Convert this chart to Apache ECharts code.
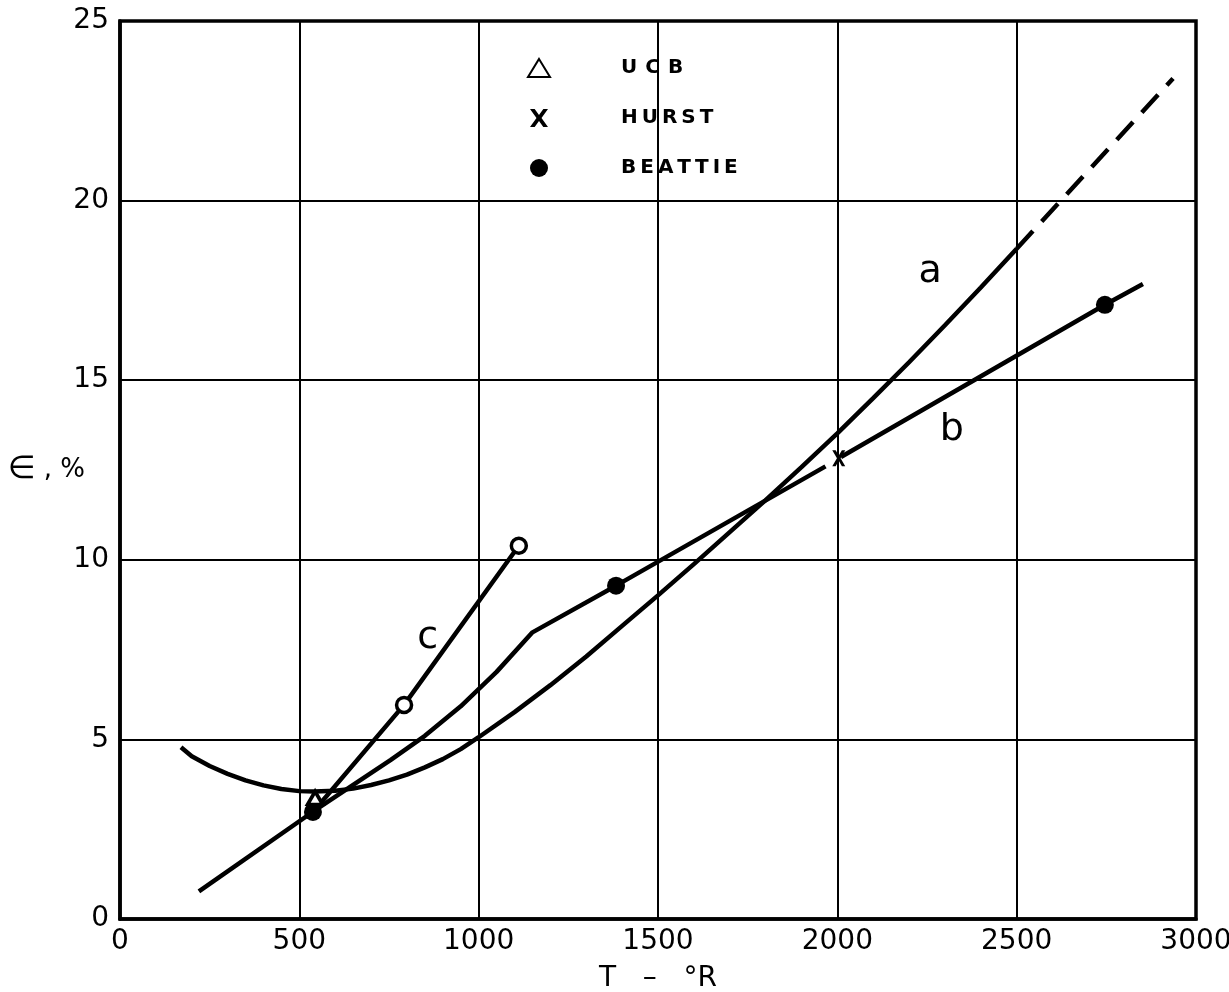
<!DOCTYPE html>
<html>
<head>
<meta charset="utf-8">
<script src="https://cdn.jsdelivr.net/npm/echarts@6/dist/echarts.min.js"></script>
<style>
html,body{margin:0;padding:0;background:#fff;}
#chart{width:1229px;height:992px;}
</style>
</head>
<body>
<div id="chart"></div>
<script>
// ---- data ----
const xRange = [0, 3000];
const yRange = [0, 25];
const xStep = 500;
const yStep = 5;

// curve a: solid part and dashed extrapolation
const curveA = [[170,4.78],[200,4.53],[250,4.26],[300,4.04],[350,3.86],[400,3.72],[450,3.62],[500,3.56],[541,3.55],[600,3.57],[650,3.63],[700,3.73],[750,3.86],[800,4.02],[850,4.22],[900,4.45],[950,4.73],[1000,5.06],[1100,5.76],[1200,6.51],[1300,7.31],[1400,8.16],[1500,9.01],[1600,9.88],[1700,10.77],[1800,11.66],[1900,12.58],[2000,13.52],[2100,14.5],[2200,15.5],[2300,16.53],[2400,17.58],[2500,18.66]];
const curveADashed = [[2500,18.66],[2936,23.4]];
// curve b: broken at the Hurst point
const curveB1 = [[220,0.77],[540,3.0],[755,4.43],[850,5.1],[950,5.92],[1050,6.88],[1150,7.98],[1383,9.28],[1967,12.6]];
const curveB2 = [[2010,12.86],[2746,17.1],[2852,17.68]];
// curve c
const curveC = [[540,3.0],[792,5.96],[1112,10.39]];
const openCircles = [[792,5.96],[1112,10.39]];

// measured points
const ucb = [[544,3.37]];
const hurst = [[2004,12.83]];
const beattie = [[538,2.98],[1383,9.28],[2746,17.1]];

// curve letters
const curveLabels = [
  {name:'a', value:[2259,18.0]},
  {name:'b', value:[2319,13.62]},
  {name:'c', value:[858,7.83]}
];

const legendNames = ['U\u2009\u2009C\u2009\u2009B', 'H\u2009U\u2009R\u2009S\u2009T', 'B\u2009E\u2009A\u2009T\u2009T\u2009I\u2009E'];

const XPATH = 'path://M0,0 L2.6,0 L5,3.4 L7.4,0 L10,0 L6.4,5 L10,10 L7.4,10 L5,6.6 L2.6,10 L0,10 L3.6,5 Z';

const chart = echarts.init(document.getElementById('chart'), null, {renderer:'canvas'});
const lineStyle = {color:'#000', width:4.5};
const baseFont = 'DejaVu Sans';

chart.setOption({
  animation:false,
  backgroundColor:'#fff',
  grid:{left:120, right:33, top:21, bottom:73, containLabel:false, outerBoundsMode:'none',
    show:true, borderColor:'#000', borderWidth:3.5, backgroundColor:'transparent'},
  legend:{
    orient:'vertical', left:522, top:53, itemGap:30, itemWidth:22, itemHeight:18,
    data:legendNames,
    textStyle:{fontFamily:baseFont, fontSize:20, fontWeight:'bold', color:'#000', padding:[0,0,0,66]},
    selectedMode:false
  },
  xAxis:{
    type:'value', min:xRange[0], max:xRange[1], interval:xStep,
    name:'T   \u2013   °R', nameLocation:'middle', nameGap:46,
    nameTextStyle:{fontFamily:baseFont, fontSize:28, color:'#000'},
    axisLine:{show:true, lineStyle:{color:'#000', width:3.5}},
    axisTick:{show:false},
    axisLabel:{fontFamily:baseFont, fontSize:28, color:'#000', margin:9, formatter:function(v){return String(v);}},
    splitLine:{show:true, lineStyle:{color:'#000', width:2}}
  },
  yAxis:{
    type:'value', min:yRange[0], max:yRange[1], interval:yStep,
    name:'{e|\u2208} {t|, %}', nameLocation:'middle', nameRotate:0, nameGap:35, nameMoveOverlap:false,
    nameTextStyle:{fontFamily:baseFont, fontSize:26, color:'#000', align:'right',
      rich:{e:{fontFamily:baseFont, fontSize:32, color:'#000'}, t:{fontFamily:baseFont, fontSize:26, color:'#000'}}},
    axisLine:{show:true, lineStyle:{color:'#000', width:3.5}},
    axisTick:{show:false},
    axisLabel:{fontFamily:baseFont, fontSize:28, color:'#000', margin:11, formatter:function(v){return String(v);}},
    splitLine:{show:true, lineStyle:{color:'#000', width:2}}
  },
  series:[
    {type:'line', data:curveA, showSymbol:false, lineStyle:lineStyle, z:3},
    {type:'line', data:curveADashed, showSymbol:false, lineStyle:{color:'#000', width:4.5, type:[24,13]}, z:3},
    {type:'line', data:curveB1, showSymbol:false, lineStyle:lineStyle, z:3},
    {type:'line', data:curveB2, showSymbol:false, lineStyle:lineStyle, z:3},
    {type:'line', data:curveC, showSymbol:false, lineStyle:lineStyle, z:3},
    {type:'scatter', data:openCircles, symbol:'circle', symbolSize:15,
      itemStyle:{color:'#fff', borderColor:'#000', borderWidth:3.5, opacity:1}, z:5},
    {name:legendNames[0], type:'scatter', data:ucb, symbol:'triangle', symbolSize:[15,13],
      itemStyle:{color:'#fff', borderColor:'#000', borderWidth:3.5, opacity:1}, z:5},
    {name:legendNames[1], type:'scatter', data:hurst, symbol:XPATH, symbolSize:[13,16],
      itemStyle:{color:'#000', opacity:1}, z:5},
    {name:legendNames[2], type:'scatter', data:beattie, symbol:'circle', symbolSize:18,
      itemStyle:{color:'#000', opacity:1}, z:5},
    {type:'scatter', data:curveLabels, symbolSize:0, silent:true, itemStyle:{opacity:1},
      label:{show:true, position:'inside', formatter:'{b}', fontFamily:baseFont, fontSize:38, color:'#000', opacity:1}, z:6}
  ]
});
</script>
</body>
</html>
